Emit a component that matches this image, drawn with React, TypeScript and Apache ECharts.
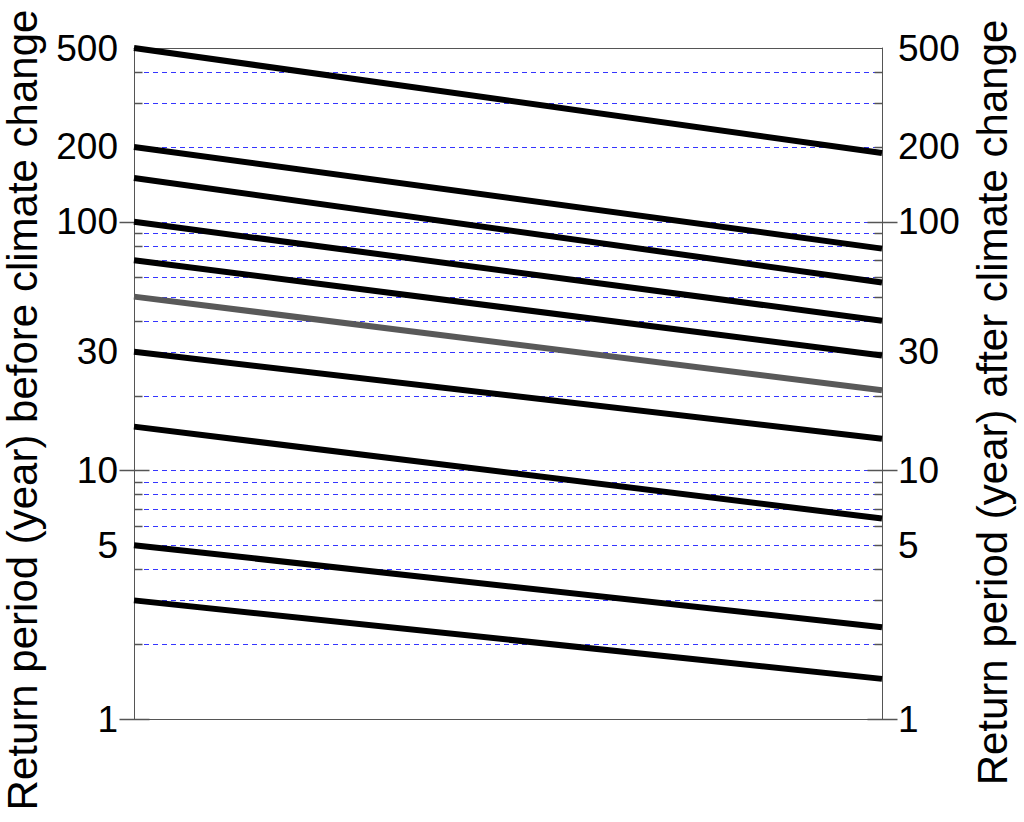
import React, { useEffect, useRef } from "react";
import * as echarts from "echarts";

// Return periods (years) before and after climate change
const periodsBefore = [500, 200, 150, 100, 70, 50, 30, 15, 5, 3];
const periodsAfter = [189, 78, 57, 40, 29, 21, 13.4, 6.4, 2.34, 1.45];
const highlightedIndex = 5;

// Axis tick labels / ticks / grid values
const tickLabels = [1, 5, 10, 30, 100, 200, 500];
const majorTicks = [1, 10, 100];
const gridValues = [2, 3, 4, 5, 6, 7, 8, 9, 10, 20, 30, 40, 50, 60, 70, 80, 90, 100, 200, 300, 400];

const leftName = "Return period (year) before climate change";
const rightName = "Return period (year) after climate change";

const FONT = "'Liberation Sans', Arial, sans-serif";
const AXIS_COLOR = "#555";

function fmt(v: number) {
  return String(Number(Number(v).toPrecision(4)));
}

function makeAxis(position: "left" | "right") {
  return {
    type: "log" as const,
    logBase: 10,
    min: 1,
    max: 500,
    position,
    axisLine: { show: true, onZero: false, lineStyle: { color: AXIS_COLOR, width: 1 } },
    axisLabel: {
      show: true,
      customValues: tickLabels,
      formatter: fmt,
      fontSize: 37,
      fontFamily: FONT,
      color: "#000",
      margin: 16,
    },
    axisTick: { show: false },
    splitLine: { show: false },
  };
}

// tick items: [side (0 = left, 1 = right), value, isMajor]
const tickItems: number[][] = [];
[0, 1].forEach((side) => {
  gridValues.forEach((v) => {
    if (!majorTicks.includes(v)) tickItems.push([side, v, 0]);
  });
  majorTicks.forEach((v) => tickItems.push([side, v, 1]));
});
const gridItems: number[][] = gridValues.map((v) => [0, v]);

export default function App() {
  const ref = useRef<HTMLDivElement>(null);

  useEffect(() => {
    if (!ref.current) return;
    const chart = echarts.init(ref.current, undefined, { renderer: "svg" });
    const series: any[] = periodsBefore.map((b, i) => ({
      type: "line",
      xAxisIndex: 0,
      yAxisIndex: 0,
      symbol: "none",
      silent: true,
      z: 5,
      data: [
        [0, b],
        [1, periodsAfter[i]],
      ],
      lineStyle: {
        color: i === highlightedIndex ? "#595959" : "#000",
        width: 6,
        cap: "butt",
      },
    }));

    // dashed grid lines (pixel-snapped)
    series.push({
      type: "custom",
      xAxisIndex: 0,
      yAxisIndex: 0,
      silent: true,
      clip: false,
      z: 2,
      data: gridItems,
      renderItem: (params: any, api: any) => {
        const v = api.value(1);
        const p0 = api.coord([0, v]);
        const p1 = api.coord([1, v]);
        const y = Math.round(p0[1]) + 0.5;
        return {
          type: "line",
          shape: { x1: Math.round(p0[0]) + 1, y1: y, x2: Math.round(p1[0]), y2: y },
          style: { stroke: "#3535ff", lineWidth: 1, lineDash: [5, 4] },
        };
      },
    });

    // axis ticks
    series.push({
      type: "custom",
      xAxisIndex: 0,
      yAxisIndex: 0,
      silent: true,
      clip: false,
      z: 4,
      data: tickItems,
      renderItem: (params: any, api: any) => {
        const side = api.value(0);
        const v = api.value(1);
        const major = api.value(2) === 1;
        const p = api.coord([side, v]);
        const x = Math.round(p[0]) + 0.5;
        const y = Math.round(p[1]) + 0.5;
        let x1: number, x2: number;
        if (major) {
          x1 = x - 15;
          x2 = x + 15;
        } else if (side === 0) {
          x1 = x;
          x2 = x + 8;
        } else {
          x1 = x - 8;
          x2 = x;
        }
        return {
          type: "line",
          shape: { x1, y1: y, x2, y2: y },
          style: { stroke: AXIS_COLOR, lineWidth: 1.5 },
        };
      },
    });

    chart.setOption({
      animation: false,
      backgroundColor: "#fff",
      grid: { left: 134, right: 142, top: 48, bottom: 103, containLabel: false },
      xAxis: [
        {
          type: "value",
          min: 0,
          max: 1,
          position: "bottom",
          axisLine: { show: true, onZero: false, lineStyle: { color: AXIS_COLOR, width: 1 } },
          axisTick: { show: false },
          axisLabel: { show: false },
          splitLine: { show: false },
        },
        {
          type: "value",
          min: 0,
          max: 1,
          position: "top",
          axisLine: { show: true, onZero: false, lineStyle: { color: AXIS_COLOR, width: 1 } },
          axisTick: { show: false },
          axisLabel: { show: false },
          splitLine: { show: false },
        },
      ],
      yAxis: [makeAxis("left"), makeAxis("right")],
      series,
      graphic: [
        {
          type: "text",
          x: 22,
          y: 410,
          rotation: Math.PI / 2,
          style: {
            text: leftName,
            fontSize: 42,
            fontFamily: FONT,
            fill: "#000",
            align: "center",
            verticalAlign: "middle",
          },
        },
        {
          type: "text",
          x: 992.5,
          y: 402.5,
          rotation: Math.PI / 2,
          style: {
            text: rightName,
            fontSize: 42,
            fontFamily: FONT,
            fill: "#000",
            align: "center",
            verticalAlign: "middle",
          },
        },
      ],
    });

    return () => chart.dispose();
  }, []);

  return (
    <div
      ref={ref}
      style={{ position: "fixed", left: 0, top: 0, width: 1024, height: 822, background: "#fff" }}
    />
  );
}
